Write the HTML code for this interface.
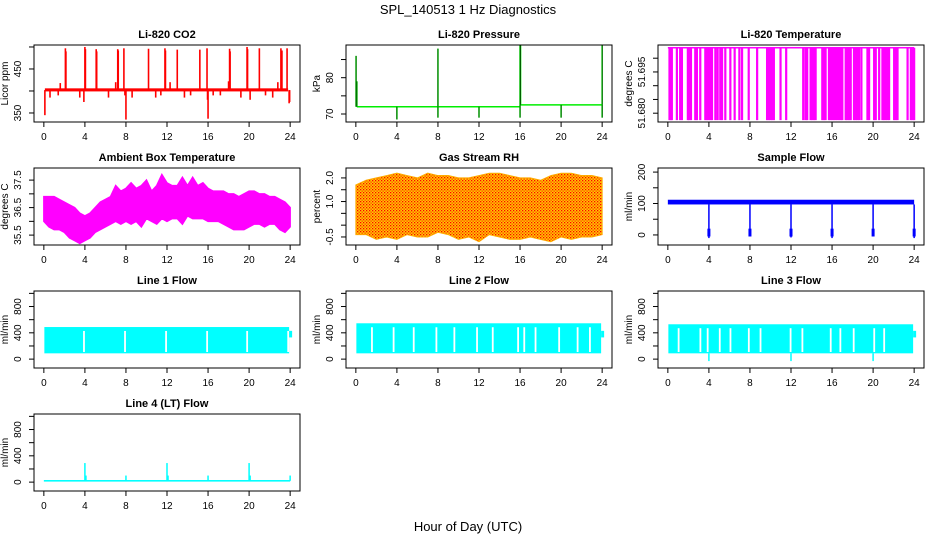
<!DOCTYPE html>
<html><head><meta charset="utf-8"><style>
body{margin:0;background:#fff}
svg{display:block;font-family:"Liberation Sans",Helvetica,Arial,sans-serif}
.t{font-weight:bold;font-size:11px;text-anchor:middle}
.tk{font-size:10px;text-anchor:middle}
</style></head><body>
<svg id="s" width="936" height="540" viewBox="0 0 936 540">
<defs>
<pattern id="rhpat" width="3" height="3" patternUnits="userSpaceOnUse"><rect width="3" height="3" fill="#ffcc00"/><rect x="0" y="0" width="1.3" height="1.3" fill="#ff0000"/><rect x="1.5" y="1.5" width="1.3" height="1.3" fill="#ff3300"/></pattern>
</defs>
<text x="468" y="14" font-size="13" text-anchor="middle">SPL_140513  1 Hz Diagnostics</text>
<text x="468" y="531" font-size="13" text-anchor="middle">Hour of Day (UTC)</text>
</svg>
<script>
const xTicks=[0,4,8,12,16,20,24];
// CO2
const co2Base=402;
const co2SpikeHours=[2.1,2.15,4.0,4.05,5.1,5.15,7.2,7.25,7.8,10.2,11.8,11.85,13.0,15.2,15.9,18.1,18.15,19.8,19.85,21.0,23.1,23.2,23.7,1.6,7.0,12.3,18.0,22.8,0.1,0.6,1.4,3.5,3.9,6.3,7.9,8.0,8.6,10.9,11.4,13.7,14.3,15.95,16.0,16.5,17.2,19.2,20.1,21.6,22.3,23.9,23.95];
const co2SpikeVals=[497,490,500,495,495,490,495,492,497,496,497,492,494,494,497,496,490,500,495,497,497,492,497,418,420,420,422,420,345,385,390,385,375,385,390,335,385,385,390,385,390,380,337,390,390,385,380,390,385,372,375];
// Pressure
const presSeg=[[0.1,16,72],[16,24,72.5]];
const presSpikeHours=[0.02,0.1,8.0,16.0,16.05,24.0,4.0,8.0,12.0,16.0,20.0,24.0];
const presSpikeVals=[86,79,88,89,89,89,68.5,69,69,69,69,69];
// Li-820 temperature
const tHigh=51.7038, tLow=51.6775;
const tDropHours=[0.16,0.29,0.39,0.88,1.2,1.37,1.95,2.08,2.25,2.67,2.83,3.16,3.65,3.81,3.97,4.14,4.3,4.63,4.85,5.11,5.28,5.6,6.09,6.51,6.97,7.23,7.88,8.7,9.67,9.84,10.0,10.16,10.33,10.98,11.53,13.19,13.42,13.58,13.91,14.07,14.23,14.4,15.05,15.21,15.37,15.7,15.86,16.03,16.19,16.35,16.51,16.68,16.84,17.0,17.33,17.49,17.65,17.82,18.14,18.31,18.47,18.63,18.86,19.45,19.61,20.1,20.26,20.59,20.91,21.07,21.24,21.4,21.56,22.05,22.21,22.38,23.36,23.68,23.84,24.0];
// Ambient temperature envelopes (every 0.5 h)
const ambHours=[0,0.5,1,1.5,2,2.5,3,3.5,4,4.5,5,5.5,6,6.5,7,7.5,8,8.5,9,9.5,10,10.5,11,11.5,12,12.5,13,13.5,14,14.5,15,15.5,16,16.5,17,17.5,18,18.5,19,19.5,20,20.5,21,21.5,22,22.5,23,23.5,24];
const ambUpper=[36.9,36.9,36.9,36.8,36.7,36.6,36.5,36.3,36.2,36.3,36.5,36.7,36.8,36.9,37.3,37.1,37.2,37.4,37.2,37.3,37.5,37.1,37.3,37.7,37.4,37.3,37.3,37.6,37.3,37.6,37.3,37.4,37.2,37.1,37.1,37.1,37.0,37.0,36.9,37.0,37.1,37.1,37.0,37.0,36.9,36.9,36.8,36.7,36.5];
const ambLower=[36.0,35.8,35.7,35.7,35.6,35.4,35.3,35.2,35.3,35.4,35.6,35.7,35.8,35.9,36.0,35.9,36.0,35.9,36.0,35.8,36.1,36.0,35.9,36.1,36.0,36.1,36.1,35.9,36.2,36.1,36.1,36.1,36.0,36.0,36.0,35.9,35.8,35.7,35.7,35.7,35.8,35.9,35.9,35.8,35.9,35.9,35.7,35.6,35.8];
// Gas stream RH envelopes (hourly)
const rhHours=[0,1,2,3,4,5,6,7,8,9,10,11,12,13,14,15,16,17,18,19,20,21,22,23,24];
const rhUpper=[1.7,1.9,2.0,2.1,2.2,2.1,2.0,2.2,2.1,2.1,2.0,2.0,2.1,2.2,2.2,2.1,2.0,2.0,1.9,2.1,2.2,2.2,2.1,2.1,2.0];
const rhLower=[-0.4,-0.4,-0.6,-0.5,-0.6,-0.4,-0.5,-0.5,-0.3,-0.4,-0.6,-0.5,-0.7,-0.4,-0.5,-0.6,-0.6,-0.5,-0.6,-0.7,-0.5,-0.6,-0.5,-0.5,-0.4];
// Sample flow
const sfBandLow=97, sfBandHigh=112;
const sfDipHours=[4,8,12,16,20,24];
const sfDipVals=[-10,-5,-8,-10,-5,-10];
// Line flows
const l1Top=488,l1Bottom=88,l1Gaps=[3.9,7.9,11.9,15.9,19.8,23.8];
const l2Top=545,l2Bottom=88,l2Gaps=[1.56,3.67,5.63,7.84,9.59,11.8,13.33,15.8,16.4,17.5,19.8,21.6,22.8];
const l3Top=530,l3Bottom=88,l3Gaps=[1.04,3.16,3.87,5.05,6.09,7.88,9.02,11.95,13.1,15.86,16.8,18.1,20.1,21.07];
const l3DipHours=[4,12,20],l3DipVals=[-30,-30,-30];
const l4Base=20;
const l4SpikeHours=[4,12,20,4.1,8,12.1,16,20.1,24];
const l4SpikeVals=[290,290,290,100,100,100,100,100,100];

const NS='http://www.w3.org/2000/svg';
const svg=document.getElementById('s');
const colL=[34,346,658], rowT=[45,168,291,414], W=266, H=77;
function mk(tag,attrs,parent){const e=document.createElementNS(NS,tag);for(const k in attrs)e.setAttribute(k,attrs[k]);(parent||svg).appendChild(e);return e;}
function panel(c,r,name,title,ylab,ymin,ymax,yt,ylabs){
  const L=colL[c],T=rowT[r];
  const g=mk('g',{});
  
  
  const xs=h=>L+(h+0.96)/25.92*W;
  const ys=v=>T+H-(v-ymin)/(ymax-ymin)*H;
  const data=mk('g',{},g);
  
  
  const box=mk('rect',{x:L,y:T,width:W,height:H,fill:'none',stroke:'#000','stroke-width':1},g);
  
  
  const tt=mk('text',{x:L+W/2,y:T-7,class:'t'},g);tt.textContent=title;
  
  
  const xa=mk('g',{},g);
  
  
  mk('line',{x1:xs(0),x2:xs(24),y1:T+H,y2:T+H,stroke:'#000'},xa);
  xTicks.forEach(h=>{mk('line',{x1:xs(h),x2:xs(h),y1:T+H,y2:T+H+5,stroke:'#000'},xa);
    const t=mk('text',{x:xs(h),y:T+H+18,class:'tk'},xa);t.textContent=h;});
  const ya=mk('g',{},g);
  
  
  mk('line',{x1:L,x2:L,y1:ys(yt[0]),y2:ys(yt[yt.length-1]),stroke:'#000'},ya);
  yt.forEach(v=>mk('line',{x1:L-5,x2:L,y1:ys(v),y2:ys(v),stroke:'#000'},ya));
  ylabs.forEach(([v,s])=>{const t=mk('text',{x:L-13,y:ys(v),class:'tk',transform:`rotate(-90 ${L-13} ${ys(v)})`},ya);t.textContent=s;});
  const yl=mk('text',{x:L-26,y:T+H/2,class:'tk','font-size':'10',transform:`rotate(-90 ${L-26} ${T+H/2})`},g);yl.textContent=ylab;
  
  
  return {g:data,xs,ys};
}
function vl(p,h,v1,v2,col,w){mk('line',{x1:p.xs(h),x2:p.xs(h),y1:p.ys(v1),y2:p.ys(v2),stroke:col,'stroke-width':w||1},p.g);}
// CO2
let p=panel(0,0,'co2','Li-820 CO2','Licor ppm',329.5,504.5,[350,400,450,500],[[350,'350'],[450,'450']]);
mk('rect',{x:p.xs(0.1),y:p.ys(co2Base+4),width:p.xs(23.8)-p.xs(0.1),height:p.ys(co2Base-3)-p.ys(co2Base+4),fill:'#ff0000'},p.g);
co2SpikeHours.forEach((h,i)=>vl(p,h,co2Base,co2SpikeVals[i],'#ff0000',1.6));
// Pressure
p=panel(1,0,'pressure','Li-820 Pressure','kPa',67.8,89,[70,75,80,85],[[70,'70'],[80,'80']]);
presSeg.forEach(s=>mk('line',{x1:p.xs(s[0]),x2:p.xs(s[1]),y1:p.ys(s[2]),y2:p.ys(s[2]),stroke:'#00ee00','stroke-width':1.5},p.g));
presSpikeHours.forEach((h,i)=>{const b=h<16?72:72.5;vl(p,h,b,presSpikeVals[i],'#00ee00',1.5);vl(p,h,b,presSpikeVals[i],'#000',0.6);});
// Li temp
p=panel(2,0,'li820-temperature','Li-820 Temperature','degrees C',51.6768,51.7048,[51.68,51.685,51.69,51.695,51.70],[[51.68,'51.680'],[51.695,'51.695']]);
mk('line',{x1:p.xs(0),x2:p.xs(24),y1:p.ys(tHigh),y2:p.ys(tHigh),stroke:'#ff00ff','stroke-width':1.5},p.g);
tDropHours.forEach(h=>vl(p,h,tHigh,tLow,'#ff00ff',2.2));
// Ambient
p=panel(0,1,'ambient-temperature','Ambient Box Temperature','degrees C',35.14,37.94,[35.5,36,36.5,37,37.5],[[35.5,'35.5'],[36.5,'36.5'],[37.5,'37.5']]);
{let pts=ambHours.map((h,i)=>p.xs(h)+','+p.ys(ambUpper[i]));for(let i=ambHours.length-1;i>=0;i--)pts.push(p.xs(ambHours[i])+','+p.ys(ambLower[i]));
mk('polygon',{points:pts.join(' '),fill:'#ff00ff',stroke:'#ff00ff','stroke-width':1.5,'stroke-linejoin':'miter'},p.g);}
// RH
p=panel(1,1,'gas-stream-rh','Gas Stream RH','percent',-0.84,2.42,[-0.5,0,0.5,1,1.5,2],[[-0.5,'-0.5'],[1.0,'1.0'],[2.0,'2.0']]);
{let pts=rhHours.map((h,i)=>p.xs(h)+','+p.ys(rhUpper[i]));for(let i=rhHours.length-1;i>=0;i--)pts.push(p.xs(rhHours[i])+','+p.ys(rhLower[i]));
mk('polygon',{points:pts.join(' '),fill:'url(#rhpat)',stroke:'#ffaa00','stroke-width':1},p.g);}
// Sample flow
p=panel(2,1,'sample-flow','Sample Flow','ml/min',-32,213,[0,50,100,150,200],[[0,'0'],[100,'100'],[200,'200']]);
mk('rect',{x:p.xs(0),y:p.ys(sfBandHigh),width:p.xs(24)-p.xs(0),height:p.ys(sfBandLow)-p.ys(sfBandHigh),fill:'#0000ff'},p.g);
sfDipHours.forEach((h,i)=>{vl(p,h,sfBandLow,sfDipVals[i],'#0000ff',1.5);vl(p,h,20,-5,'#0000ff',3);});
// Line flows
const fTicks=[0,200,400,600,800,1000],fLabs=[[0,'0'],[400,'400'],[800,'800']];
function flow(c,r,name,title,top,bot,gaps){
  const q=panel(c,r,name,title,'ml/min',-135,1036,fTicks,fLabs);
  mk('rect',{x:q.xs(0.05),y:q.ys(top),width:q.xs(23.9)-q.xs(0.05),height:q.ys(bot)-q.ys(top),fill:'#00ffff'},q.g);
  gaps.forEach(h=>mk('rect',{x:q.xs(h)-0.8,y:q.ys(top-60),width:1.8,height:q.ys(bot+20)-q.ys(top-60),fill:'#fff'},q.g));
  mk('rect',{x:q.xs(23.9),y:q.ys(430),width:3,height:q.ys(330)-q.ys(430),fill:'#00ffff'},q.g);
  return q;
}
flow(0,2,'line1-flow','Line 1 Flow',l1Top,l1Bottom,l1Gaps);
flow(1,2,'line2-flow','Line 2 Flow',l2Top,l2Bottom,l2Gaps);
p=flow(2,2,'line3-flow','Line 3 Flow',l3Top,l3Bottom,l3Gaps);
l3DipHours.forEach((h,i)=>vl(p,h,l3Bottom,l3DipVals[i],'#00ffff',1.5));
p=panel(0,3,'line4-flow','Line 4 (LT) Flow','ml/min',-135,1036,fTicks,fLabs);
mk('rect',{x:p.xs(0),y:p.ys(l4Base+12),width:p.xs(24)-p.xs(0),height:p.ys(l4Base-12)-p.ys(l4Base+12),fill:'#00ffff'},p.g);
l4SpikeHours.forEach((h,i)=>vl(p,h,l4Base,l4SpikeVals[i],'#00ffff',1.5));
</script>
</body></html>
